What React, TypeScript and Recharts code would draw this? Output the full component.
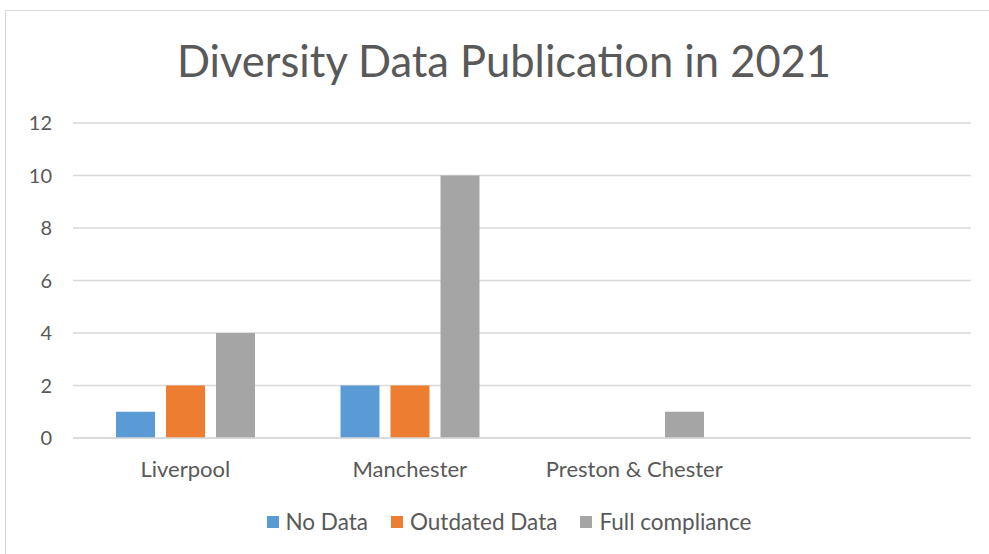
import React from 'react';
import { BarChart, Bar, XAxis, YAxis, CartesianGrid, Legend } from 'recharts';

const categories = ['Liverpool', 'Manchester', 'Preston & Chester', ''];
const noData = [1, 2, 0, 0];
const outdatedData = [2, 2, 0, 0];
const fullCompliance = [4, 10, 1, 0];
const yTicks = [0, 2, 4, 6, 8, 10, 12];

const series = [
  { key: 'noData', name: 'No Data', color: '#5b9bd5' },
  { key: 'outdated', name: 'Outdated Data', color: '#ed7d31' },
  { key: 'full', name: 'Full compliance', color: '#a5a5a5' },
];

const data = categories.map((name, i) => ({
  name,
  noData: noData[i],
  outdated: outdatedData[i],
  full: fullCompliance[i],
}));

const FONT = 'Lato, "Open Sans", sans-serif';
const TEXT = '#595959';
const GRID = '#d9d9d9';

const LegendContent = () => (
  <div style={{ display: 'flex', justifyContent: 'center', alignItems: 'center', fontFamily: FONT, fontSize: 22.5, color: TEXT }}>
    {series.map((s, i) => (
      <div key={s.key} style={{ display: 'flex', alignItems: 'center', marginLeft: i === 0 ? 0 : 23 }}>
        <span style={{ display: 'inline-block', width: 12, height: 12, background: s.color, marginRight: 7 }} />
        <span>{s.name}</span>
      </div>
    ))}
  </div>
);

export default function App() {
  return (
    <div style={{ position: 'absolute', left: 0, top: 0, width: 989, height: 554, overflow: 'hidden', background: '#fff' }}>
      <div
        style={{
          position: 'absolute',
          left: 5,
          top: 10,
          width: 1100,
          height: 700,
          border: `1px solid ${GRID}`,
          boxSizing: 'border-box',
        }}
      />
      <div
        style={{
          position: 'absolute',
          left: 0,
          top: 34,
          width: 1008,
          textAlign: 'center',
          fontFamily: FONT,
          fontSize: 43.5,
          color: TEXT,
          lineHeight: '52px',
        }}
      >
        Diversity Data Publication in 2021
      </div>
      <div style={{ position: 'absolute', left: 0, top: 0 }}>
        <BarChart
          width={989}
          height={554}
          data={data}
          margin={{ top: 123, right: 18, bottom: 86, left: 0 }}
          barSize={39}
          barGap={11}
        >
          <CartesianGrid vertical={false} stroke={GRID} strokeWidth={1.5} />
          <XAxis
            dataKey="name"
            axisLine={{ stroke: GRID, strokeWidth: 1.5 }}
            tickLine={false}
            tickMargin={17}
            height={30}
            interval={0}
            tick={{ fill: TEXT, fontSize: 22, fontFamily: FONT }}
          />
          <YAxis
            domain={[0, 12]}
            ticks={yTicks}
            axisLine={false}
            tickLine={false}
            tickMargin={15}
            width={73}
            tick={{ fill: TEXT, fontSize: 20, fontFamily: FONT }}
          />
          <Legend
            layout="horizontal"
            verticalAlign="middle"
            align="center"
            wrapperStyle={{ top: 508, left: 0, width: 1018 }}
            content={<LegendContent />}
          />
          {series.map((s) => (
            <Bar key={s.key} dataKey={s.key} name={s.name} fill={s.color} isAnimationActive={false} />
          ))}
        </BarChart>
      </div>
    </div>
  );
}
